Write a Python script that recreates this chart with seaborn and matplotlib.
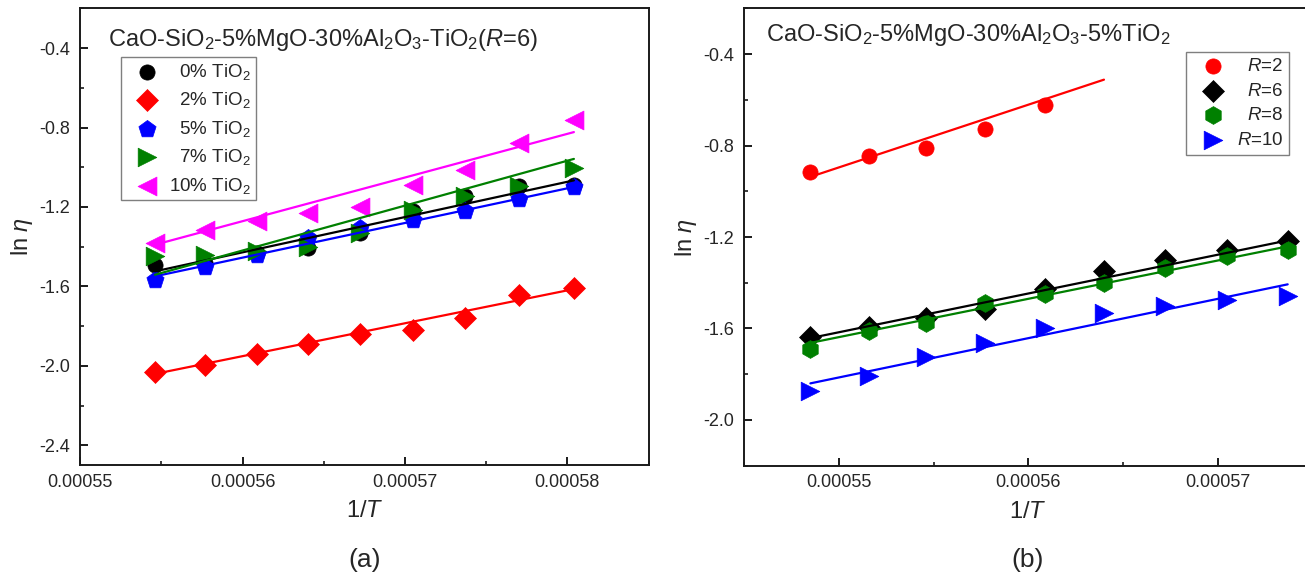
import numpy as np
import pandas as pd
import matplotlib
matplotlib.use("Agg")
import matplotlib.pyplot as plt
import seaborn as sns
from matplotlib.ticker import MultipleLocator, FormatStrFormatter

# ---------------- data: panel (a) ----------------
inv_T_a = [0.0005546, 0.0005577, 0.0005609, 0.0005640, 0.0005672,
           0.0005705, 0.0005737, 0.0005770, 0.0005804]
labels_a = ["0% TiO$_2$", "2% TiO$_2$", "5% TiO$_2$", "7% TiO$_2$", "10% TiO$_2$"]
ln_eta_0 = [-1.490, -1.480, -1.430, -1.406, -1.331, -1.222, -1.146, -1.096, -1.090]
ln_eta_2 = [-2.032, -1.994, -1.938, -1.888, -1.839, -1.817, -1.759, -1.645, -1.608]
ln_eta_5 = [-1.566, -1.502, -1.440, -1.356, -1.306, -1.267, -1.222, -1.160, -1.099]
ln_eta_7 = [-1.445, -1.440, -1.423, -1.401, -1.331, -1.214, -1.146, -1.093, -1.004]
ln_eta_10 = [-1.381, -1.314, -1.272, -1.230, -1.200, -1.088, -1.012, -0.878, -0.761]
fit_a_start = [-1.524, -2.040, -1.549, -1.541, -1.390]
fit_a_end = [-1.066, -1.613, -1.099, -0.958, -0.823]

# ---------------- data: panel (b) ----------------
inv_T_b = [0.0005485, 0.0005516, 0.0005546, 0.0005577, 0.0005609,
           0.0005640, 0.0005672, 0.0005705, 0.0005737]
labels_b = ["$R$=2", "$R$=6", "$R$=8", "$R$=10"]
ln_eta_R2 = [-0.917, -0.845, -0.809, -0.728, -0.623]
ln_eta_R6 = [-1.637, -1.594, -1.554, -1.515, -1.426, -1.348, -1.300, -1.256, -1.217]
ln_eta_R8 = [-1.690, -1.613, -1.576, -1.489, -1.449, -1.401, -1.336, -1.281, -1.259]
ln_eta_R10 = [-1.875, -1.809, -1.725, -1.663, -1.598, -1.532, -1.503, -1.474, -1.457]
fit_b_start = [-0.937, -1.642, -1.663, -1.840]
fit_b_end = [-0.512, -1.215, -1.241, -1.407]
fit_b_xmax = [0.0005640, 0.0005737, 0.0005737, 0.0005737]

title_a = "CaO-SiO$_2$-5%MgO-30%Al$_2$O$_3$-TiO$_2$($R$=6)"
title_b = "CaO-SiO$_2$-5%MgO-30%Al$_2$O$_3$-5%TiO$_2$"

# ---------------- style ----------------
sns.set_style("ticks")
plt.rcParams["font.family"] = ["Liberation Sans", "DejaVu Sans"]
plt.rcParams["mathtext.fontset"] = "custom"
plt.rcParams["mathtext.rm"] = "Liberation Sans"
plt.rcParams["mathtext.it"] = "Liberation Sans:italic"
plt.rcParams["mathtext.bf"] = "Liberation Sans:bold"
plt.rcParams["axes.unicode_minus"] = False

W, H = 1305, 577
fig = plt.figure(figsize=(W / 100, H / 100), dpi=100)
fig.patch.set_facecolor("white")

ax_a = fig.add_axes([80.2 / W, 1 - 465.3 / H, 568.4 / W, 457.0 / H])
ax_b = fig.add_axes([744.1 / W, 1 - 465.7 / H, 568.2 / W, 457.4 / H])

colors_a = ["black", "#FF0000", "#0000FF", "#008000", "#FF00FF"]
markers_a = ["o", "D", "p", ">", "<"]
sizes_a = [120, 125, 170, 180, 185]
series_a = [ln_eta_0, ln_eta_2, ln_eta_5, ln_eta_7, ln_eta_10]

colors_b = ["#FF0000", "black", "#008000", "#0000FF"]
markers_b = ["o", "D", "h", ">"]
sizes_b = [120, 125, 165, 180]
series_b = [ln_eta_R2, ln_eta_R6, ln_eta_R8, ln_eta_R10]


def draw_series(ax, xs, ys, color, marker, size):
    n = len(ys)
    df = pd.DataFrame({"x": xs[:n], "y": ys})
    sns.scatterplot(data=df, x="x", y="y", ax=ax, color=color, marker=marker,
                    s=size, edgecolor=color, linewidth=0.5, zorder=3)
    return ax.collections[-1]


def draw_fit(ax, x0, x1, y0, y1, color):
    df = pd.DataFrame({"x": [x0, x1], "y": [y0, y1]})
    sns.lineplot(data=df, x="x", y="y", ax=ax, color=color, linewidth=1.6,
                 zorder=4, legend=False)


# panel (a)
handles_a = []
for ys, c, m, s in zip(series_a, colors_a, markers_a, sizes_a):
    handles_a.append(draw_series(ax_a, inv_T_a, ys, c, m, s))
for c, y0, y1 in zip(colors_a, fit_a_start, fit_a_end):
    draw_fit(ax_a, inv_T_a[0], inv_T_a[-1], y0, y1, c)

# panel (b)
handles_b = []
for ys, c, m, s in zip(series_b, colors_b, markers_b, sizes_b):
    handles_b.append(draw_series(ax_b, inv_T_b, ys, c, m, s))
for c, y0, y1, xm in zip(colors_b, fit_b_start, fit_b_end, fit_b_xmax):
    draw_fit(ax_b, inv_T_b[0], xm, y0, y1, c)


def style_axes(ax, xlim, ylim, xticks, yticks):
    ax.set_xlim(*xlim)
    ax.set_ylim(*ylim)
    ax.set_xticks(xticks)
    ax.set_yticks(yticks)
    ax.xaxis.set_minor_locator(MultipleLocator(0.000005))
    ax.yaxis.set_minor_locator(MultipleLocator(0.2))
    ax.xaxis.set_major_formatter(FormatStrFormatter("%.5f"))
    ax.yaxis.set_major_formatter(FormatStrFormatter("%.1f"))
    for sp in ax.spines.values():
        sp.set_visible(True)
        sp.set_linewidth(1.4)
        sp.set_color("#1a1a1a")
    ax.tick_params(which="major", direction="in", length=6, width=1.4,
                   labelsize=13, color="#1a1a1a")
    ax.tick_params(which="minor", direction="in", length=3, width=1.2,
                   color="#1a1a1a")
    ax.tick_params(axis="x", which="both", pad=6, top=False, bottom=True)
    ax.tick_params(axis="y", which="both", pad=7.5, right=False, left=True)
    ax.set_xlabel("1/$T$", fontsize=17, labelpad=7)
    ax.set_ylabel("ln $\\mathit{\\eta}$", fontsize=17, labelpad=3)
    ax.set_facecolor("white")


style_axes(ax_a, (0.00055, 0.000585), (-2.5, -0.2),
           [0.00055, 0.00056, 0.00057, 0.00058], [-2.4, -2.0, -1.6, -1.2, -0.8, -0.4])
style_axes(ax_b, (0.000545, 0.000575), (-2.2, -0.2),
           [0.00055, 0.00056, 0.00057], [-2.0, -1.6, -1.2, -0.8, -0.4])

ax_a.text(0.0489, 0.9182, title_a, transform=ax_a.transAxes, fontsize=17,
          ha="left", va="baseline")
ax_b.text(0.039, 0.929, title_b, transform=ax_b.transAxes, fontsize=17,
          ha="left", va="baseline")


def pad_labels(labels):
    plain = [l.replace("$", "") for l in labels]
    ndig = [sum(ch.isdigit() for ch in p.split("%")[0].split("=")[-1]) for p in plain]
    mx = max(ndig)
    return ["  " * (mx - d) + l for l, d in zip(labels, ndig)]


leg_a = ax_a.legend(handles_a, pad_labels(labels_a), loc="upper left",
                    bbox_to_anchor=(0.0711, 0.8928), borderaxespad=0,
                    fontsize=13.5, frameon=True, fancybox=False, framealpha=1,
                    edgecolor="#7f7f7f", borderpad=0.25, handlelength=2.3,
                    handletextpad=0.05, labelspacing=0.45, scatterpoints=1)
leg_a.get_frame().set_linewidth(1.0)
leg_b = ax_b.legend(handles_b, pad_labels(labels_b), loc="upper right",
                    bbox_to_anchor=(0.959, 0.9038), borderaxespad=0,
                    fontsize=13.5, frameon=True, fancybox=False, framealpha=1,
                    edgecolor="#7f7f7f", borderpad=0.3, handlelength=2.3,
                    handletextpad=0.1, labelspacing=0.4, scatterpoints=1)
leg_b.get_frame().set_linewidth(1.0)

fig.text(364.4 / W, 1 - 567.5 / H, "(a)", fontsize=19, ha="center", va="baseline")
fig.text(1028.0 / W, 1 - 567.5 / H, "(b)", fontsize=19, ha="center", va="baseline")

fig.savefig("out.png", dpi=100, facecolor="white")
